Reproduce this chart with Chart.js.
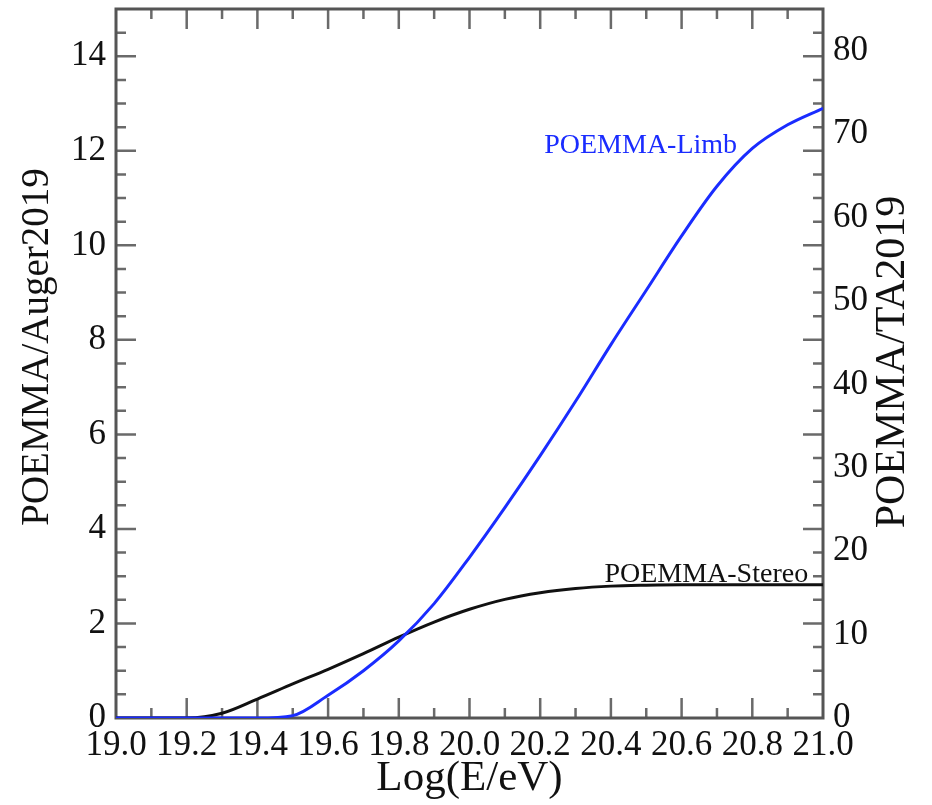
<!DOCTYPE html>
<html>
<head>
<meta charset="utf-8">
<script src="https://cdn.jsdelivr.net/npm/chart.js@4.4.1/dist/chart.umd.min.js"></script>
<style>
  html, body { margin: 0; padding: 0; background: #fff; }
  canvas { display: block; }
</style>
</head>
<body>
<canvas id="poemma" width="932" height="805"></canvas>
<script>
// values, Log(E/eV) every 0.1
var logE   = [19.0, 19.1, 19.2, 19.3, 19.4, 19.5, 19.6, 19.7, 19.8, 19.9, 20.0,
              20.1, 20.2, 20.3, 20.4, 20.5, 20.6, 20.7, 20.8, 20.9, 21.0];
var limb   = [0, 0, 0, 0, 0, 0.05, 0.48, 1.0, 1.63, 2.42, 3.4,
              4.45, 5.55, 6.7, 7.9, 9.05, 10.2, 11.25, 12.05, 12.55, 12.9];
var stereo = [0, 0, 0, 0.1, 0.4, 0.72, 1.03, 1.36, 1.71, 2.03, 2.3,
              2.51, 2.65, 2.74, 2.79, 2.81, 2.82, 2.82, 2.82, 2.82, 2.82];

var leftRange  = [0, 15];   // POEMMA/Auger2019
var rightRange = [0, 85];   // POEMMA/TA2019
var xRange     = [19, 21];

var serif = "'Liberation Serif', 'DejaVu Serif', serif";

function pts(ys) {
    var out = [];
    for (var i = 0; i < logE.length; i++) out.push({x: logE[i], y: ys[i]});
    return out;
}

function vtext(ctx, txt, x, y) {
    ctx.save();
    ctx.translate(x, y);
    ctx.rotate(-Math.PI / 2);
    ctx.fillText(txt, 0, 0);
    ctx.restore();
}

// frame with inward ticks on every side, like the original plot
var frame = {
    id: 'frame',
    beforeDatasetsDraw: function (chart) {
        var ctx = chart.ctx, a = chart.chartArea;
        var sx = chart.scales.x, sy = chart.scales.y;
        ctx.save();
        ctx.strokeStyle = '#6a6a6a';
        ctx.lineWidth = 2.5;
        ctx.beginPath();
        for (var i = 1; i < 20; i++) {
            var px = sx.getPixelForValue(19 + i * 0.1);
            var len = (i % 2 == 0) ? 20 : 10;
            ctx.moveTo(px, a.bottom); ctx.lineTo(px, a.bottom - len);
            ctx.moveTo(px, a.top);    ctx.lineTo(px, a.top + len);
        }
        for (var j = 1; j < 30; j++) {
            var py = sy.getPixelForValue(j * 0.5);
            var l2 = (j % 4 == 0) ? 20 : 10;
            ctx.moveTo(a.left, py);  ctx.lineTo(a.left + l2, py);
            ctx.moveTo(a.right, py); ctx.lineTo(a.right - l2, py);
        }
        ctx.stroke();
        ctx.strokeStyle = '#555';
        ctx.lineWidth = 3;
        ctx.strokeRect(a.left, a.top, a.right - a.left, a.bottom - a.top);
        ctx.restore();
    },
    afterDraw: function (chart) {
        var ctx = chart.ctx, a = chart.chartArea;
        var sx = chart.scales.x, sy = chart.scales.y;
        ctx.save();
        ctx.font = '28px ' + serif;
        ctx.textAlign = 'right';
        ctx.textBaseline = 'alphabetic';
        ctx.fillStyle = '#1a2cff';
        ctx.fillText('POEMMA-Limb', sx.getPixelForValue(20.757), sy.getPixelForValue(11.95));
        ctx.fillStyle = '#111';
        ctx.fillText('POEMMA-Stereo', sx.getPixelForValue(20.958), sy.getPixelForValue(2.88));
        // both y titles read bottom to top in the original
        ctx.textAlign = 'center';
        ctx.textBaseline = 'middle';
        ctx.font = '39px ' + serif;
        vtext(ctx, 'POEMMA/Auger2019', 38, 347);
        ctx.font = '42px ' + serif;
        vtext(ctx, 'POEMMA/TA2019', 893, 362);
        ctx.restore();
    }
};

function noPad(s) { s.paddingTop = 0; s.paddingBottom = 0; }

var ctx = document.getElementById('poemma');
var chart = new Chart(ctx, {
    type: 'line',
    data: {
        datasets: [
            {
                label: 'POEMMA-Limb',
                data: pts(limb),
                borderColor: '#1a2cff',
                borderWidth: 3,
                pointRadius: 0,
                cubicInterpolationMode: 'monotone',
                fill: false
            },
            {
                label: 'POEMMA-Stereo',
                data: pts(stereo),
                borderColor: '#111',
                borderWidth: 3,
                pointRadius: 0,
                cubicInterpolationMode: 'monotone',
                fill: false
            }
        ]
    },
    options: {
        responsive: false,
        animation: false,
        devicePixelRatio: 1,
        layout: { padding: { top: 9, left: 0, right: 0, bottom: 0 } },
        plugins: {
            legend: { display: false },
            tooltip: { enabled: false }
        },
        scales: {
            x: {
                type: 'linear',
                min: xRange[0],
                max: xRange[1],
                grid: { display: false, drawTicks: false },
                border: { display: false },
                ticks: {
                    stepSize: 0.2,
                    autoSkip: false,
                    maxRotation: 0,
                    padding: 7,
                    color: '#111',
                    font: { family: serif, size: 35 },
                    callback: function (v) { return Number(v).toFixed(1); }
                },
                title: {
                    display: true,
                    text: 'Log(E/eV)',
                    color: '#111',
                    padding: { top: 0, bottom: 0 },
                    font: { family: serif, size: 43 }
                },
                afterFit: function (s) { s.height = 87; }
            },
            y: {
                position: 'left',
                min: leftRange[0],
                max: leftRange[1],
                grid: { display: false, drawTicks: false },
                border: { display: false },
                ticks: {
                    stepSize: 2,
                    includeBounds: false,
                    padding: 10,
                    color: '#111',
                    font: { family: serif, size: 35 }
                },
                afterFit: function (s) { s.width = 116; noPad(s); }
            },
            y2: {
                position: 'right',
                min: rightRange[0],
                max: rightRange[1],
                grid: { display: false, drawTicks: false },
                border: { display: false },
                ticks: {
                    stepSize: 10,
                    includeBounds: false,
                    padding: 10,
                    color: '#111',
                    font: { family: serif, size: 35 }
                },
                afterFit: function (s) { s.width = 109; noPad(s); }
            }
        }
    },
    plugins: [frame]
});
</script>
</body>
</html>
